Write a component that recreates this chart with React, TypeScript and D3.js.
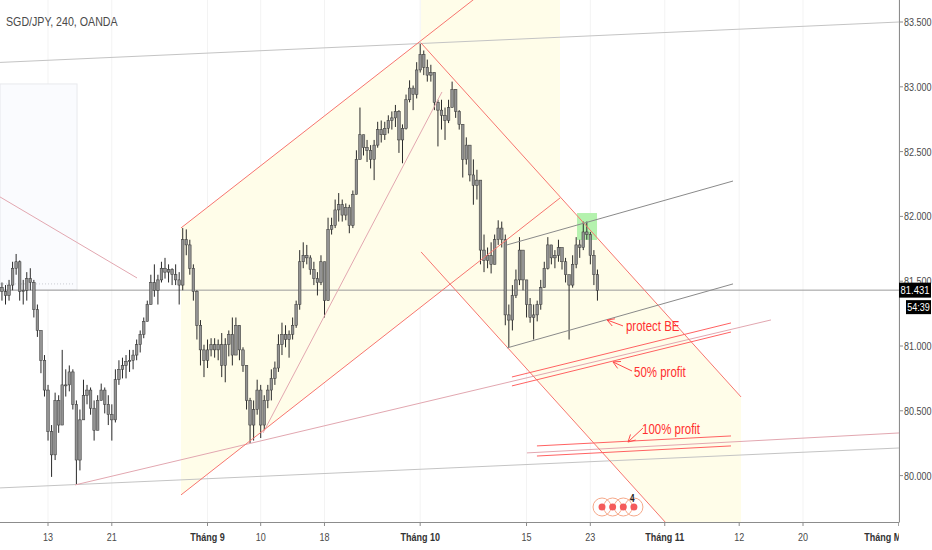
import { useEffect, useRef } from 'react';
import * as d3 from 'd3';

const SYMBOL = 'SGD/JPY, 240, OANDA';

// x is counted in trading days from Mon 13 Aug (weekends skipped)
const TICK_DAYS = [0, 6, 15, 20, 26, 35, 45, 51, 58, 65, 71, 80];
const TICK_LABELS = ['13', '21', 'Tháng 9', '10', '18', 'Tháng 10', '15', '23', 'Tháng 11', '12', '20', 'Tháng Mười Hai'];
const PRICE_TICKS = [80, 80.5, 81, 81.5, 82, 82.5, 83, 83.5];

// candles, 3 per trading day, open = previous close
const FIRST_DAY = -4.33;
const BARS_PER_DAY = 3;
const FIRST_OPEN = 81.45;
const HIGHS = [
  81.49, 81.47, 81.51, 81.65, 81.71, 81.66, 81.51, 81.57, 81.60, 81.51,
  81.32, 81.12, 80.93, 80.70, 80.39, 80.64, 80.62, 80.97, 80.82, 80.85,
  80.82, 80.58, 80.51, 80.74, 80.70, 80.68, 80.58, 80.62, 80.71, 80.68,
  80.62, 80.55, 80.82, 80.89, 80.91, 80.93, 80.97, 80.97, 81.05, 81.12,
  81.22, 81.35, 81.55, 81.63, 81.55, 81.65, 81.68, 81.63, 81.60, 81.63,
  81.57, 81.91, 81.90, 81.82, 81.63, 81.43, 81.20, 81.01, 81.05, 81.06,
  81.06, 81.05, 81.10, 81.06, 81.12, 81.22, 81.22, 81.16, 80.99, 80.85,
  80.60, 80.58, 80.74, 80.70, 80.62, 80.70, 80.82, 80.88, 81.09, 81.18,
  81.16, 81.12, 81.22, 81.35, 81.74, 81.80, 81.78, 81.70, 81.65, 81.57,
  81.70, 81.65, 81.99, 81.99, 82.13, 82.18, 82.13, 82.10, 82.09, 82.20,
  82.51, 82.84, 82.63, 82.59, 82.55, 82.59, 82.73, 82.74, 82.73, 82.78,
  82.81, 82.86, 82.82, 82.71, 82.94, 83.05, 83.01, 83.19, 83.34, 83.28,
  83.21, 83.17, 83.01, 82.90, 82.90, 82.84, 82.90, 83.04, 82.94, 82.82,
  82.71, 82.61, 82.55, 82.44, 82.36, 82.28, 81.86, 81.76, 81.80, 81.86,
  81.97, 81.96, 81.86, 81.32, 81.47, 81.59, 81.84, 81.74, 81.51, 81.37,
  81.32, 81.35, 81.51, 81.65, 81.84, 81.78, 81.74, 81.82, 81.76, 81.68,
  81.55, 81.70, 81.84, 81.82, 81.96, 81.96, 81.88, 81.74, 81.59,
];
const LOWS = [
  81.35, 81.32, 81.35, 81.43, 81.55, 81.35, 81.32, 81.35, 81.43, 81.22,
  81.07, 80.79, 80.61, 80.27, 79.99, 80.12, 80.33, 80.39, 80.61, 80.65,
  80.51, 79.93, 80.04, 80.43, 80.55, 80.47, 80.27, 80.38, 80.58, 80.48,
  80.39, 80.27, 80.41, 80.70, 80.75, 80.75, 80.80, 80.82, 80.89, 80.95,
  81.06, 81.19, 81.32, 81.38, 81.32, 81.49, 81.52, 81.49, 81.47, 81.47,
  81.32, 81.43, 81.70, 81.55, 81.35, 81.05, 80.85, 80.76, 80.83, 80.92,
  80.91, 80.89, 80.76, 80.72, 80.92, 80.85, 80.95, 80.89, 80.80, 80.51,
  80.25, 80.27, 80.47, 80.29, 80.35, 80.52, 80.58, 80.70, 80.80, 80.93,
  80.99, 80.91, 81.05, 81.14, 81.28, 81.60, 81.63, 81.55, 81.47, 81.39,
  81.47, 81.22, 81.35, 81.86, 81.91, 81.96, 81.96, 81.97, 81.87, 81.91,
  82.17, 82.44, 82.47, 82.42, 82.37, 82.28, 82.53, 82.57, 82.59, 82.64,
  82.67, 82.69, 82.49, 82.41, 82.67, 82.88, 82.82, 82.91, 83.11, 83.09,
  83.04, 83.04, 82.82, 82.54, 82.67, 82.59, 82.72, 82.86, 82.76, 82.67,
  82.30, 82.40, 82.27, 82.09, 82.13, 81.63, 81.57, 81.60, 81.56, 81.68,
  81.78, 81.76, 81.16, 80.99, 81.12, 81.37, 81.47, 81.43, 81.22, 81.18,
  81.05, 81.19, 81.28, 81.47, 81.59, 81.63, 81.60, 81.65, 81.59, 81.49,
  81.05, 81.45, 81.60, 81.68, 81.74, 81.82, 81.63, 81.47, 81.35,
];
const CLOSES = [
  81.42, 81.39, 81.47, 81.60, 81.65, 81.42, 81.43, 81.52, 81.49, 81.28,
  81.12, 80.89, 80.66, 80.34, 80.16, 80.58, 80.39, 80.70, 80.70, 80.80,
  80.55, 80.12, 80.43, 80.62, 80.66, 80.52, 80.35, 80.58, 80.66, 80.55,
  80.47, 80.43, 80.74, 80.82, 80.85, 80.88, 80.89, 80.93, 81.01, 81.09,
  81.19, 81.32, 81.49, 81.43, 81.51, 81.60, 81.57, 81.59, 81.55, 81.51,
  81.47, 81.82, 81.78, 81.60, 81.42, 81.16, 80.97, 80.89, 80.97, 81.01,
  80.97, 81.01, 80.85, 81.01, 81.09, 80.93, 81.16, 80.97, 80.85, 80.58,
  80.39, 80.51, 80.66, 80.39, 80.58, 80.66, 80.75, 80.83, 81.01, 81.09,
  81.05, 81.09, 81.16, 81.32, 81.65, 81.70, 81.68, 81.59, 81.52, 81.49,
  81.65, 81.35, 81.90, 81.93, 82.05, 82.09, 82.01, 82.07, 81.93, 82.17,
  82.44, 82.63, 82.53, 82.51, 82.44, 82.55, 82.67, 82.63, 82.68, 82.74,
  82.76, 82.81, 82.59, 82.68, 82.90, 82.99, 82.94, 83.13, 83.25, 83.15,
  83.09, 83.11, 82.88, 82.82, 82.78, 82.74, 82.84, 82.98, 82.81, 82.71,
  82.44, 82.55, 82.32, 82.24, 82.28, 81.74, 81.66, 81.70, 81.63, 81.82,
  81.91, 81.82, 81.24, 81.20, 81.39, 81.51, 81.74, 81.51, 81.32, 81.22,
  81.24, 81.32, 81.45, 81.60, 81.78, 81.68, 81.70, 81.76, 81.65, 81.55,
  81.47, 81.63, 81.78, 81.76, 81.88, 81.86, 81.70, 81.55, 81.43,
];

const LAST_PRICE = 81.431;
const COUNTDOWN = '54:39';

// drawings, as [day, price] points
type Pt = [number, number];
const GRAY_LINES: Pt[][] = [
  [[-4.51, 83.188], [80.03, 83.5]],
  [[-4.51, 79.905], [80.03, 80.213]],
];
const PINK_LINES: Pt[][] = [
  [[2.54, 79.928], [67.99, 81.201]],
  [[45.04, 80.175], [80.03, 80.329]],
  [[20.22, 80.329], [37.05, 82.96]],
  [[-4.51, 82.15], [8.37, 81.525]],
];
const ASC_UPPER: Pt[] = [[12.51, 81.911], [42.0, 83.8]];
const ASC_LOWER: Pt[] = [[12.51, 79.851], [48.15, 82.142]];
const DESC_UPPER: Pt[] = [[35.08, 83.338], [65.17, 80.607]];
const DESC_LOWER: Pt[] = [[35.08, 81.726], [65.17, 78.994]];
const WEDGE_LINES: Pt[][] = [
  [[43.16, 81.78], [64.42, 82.273]],
  [[43.16, 80.985], [64.42, 81.479]],
];
const TARGET_LINES: Pt[][] = [
  [[43.63, 80.761], [64.23, 81.178]],
  [[43.63, 80.692], [64.23, 81.108]],
  [[45.98, 80.229], [64.23, 80.306]],
  [[45.98, 80.151], [64.23, 80.229]],
];
const NOTE_TEXTS = ['protect BE', '50% profit', '100% profit'];
const NOTE_POINTS: Pt[] = [[54.35, 81.116], [55.11, 80.761], [55.86, 80.321]];
const ARROW_TAILS: Pt[] = [[54.07, 81.155], [54.92, 80.807], [55.95, 80.367]];
const ARROW_TIPS: Pt[] = [[52.57, 81.201], [53.13, 80.877], [54.54, 80.259]];
const GREEN_BOX: Pt[] = [[49.75, 82.026], [51.63, 81.818]];
const BLUE_BOX: Pt[] = [[-4.51, 83.022], [2.73, 81.432]];
const BLUE_BOX_MARK: Pt[] = [[-4.51, 81.479], [2.44, 81.479]];
const EVENT_DAYS = [52.1, 53.1, 54.1, 55.1];

const FONT = '"Liberation Sans", Arial, sans-serif';
const SQUEEZE = 0.82; // narrow look of the chart's font

export default function App() {
  const svgRef = useRef<SVGSVGElement>(null);

  useEffect(() => {
    if (!svgRef.current) return;
    document.body.style.margin = '0';

    const width = 932;
    const height = 550;
    const plotR = 899;
    const plotB = 522;

    const x = d3.scaleLinear().domain([0, 71]).range([48, 803]);
    const y = d3.scaleLinear().domain([80, 83.5]).range([475.6, 22]);
    const at = (l: Pt[], d: number) => l[0][1] + ((l[1][1] - l[0][1]) * (d - l[0][0])) / (l[1][0] - l[0][0]);

    const svg = d3.select(svgRef.current);
    svg.selectAll('*').remove();
    svg.attr('width', width).attr('height', height).attr('viewBox', `0 0 ${width} ${height}`);

    // condensed text helper
    const narrow = (parent: any, px: number, py: number, size: number, text: string) =>
      parent.append('text')
        .attr('transform', `translate(${px},${py}) scale(${SQUEEZE},1)`)
        .attr('font-family', FONT)
        .attr('font-size', size)
        .text(text);

    svg.append('rect').attr('width', width).attr('height', height).attr('fill', '#ffffff');

    const defs = svg.append('defs');
    defs.append('clipPath').attr('id', 'plot').append('rect').attr('width', plotR).attr('height', plotB);

    const g = svg.append('g').attr('clip-path', 'url(#plot)');

    // grid
    TICK_DAYS.forEach((d) => {
      g.append('line')
        .attr('x1', x(d)).attr('x2', x(d))
        .attr('y1', 0).attr('y2', plotB)
        .attr('stroke', '#f3f3f3');
    });

    // left box
    g.append('rect')
      .attr('x', x(BLUE_BOX[0][0])).attr('y', y(BLUE_BOX[0][1]))
      .attr('width', x(BLUE_BOX[1][0]) - x(BLUE_BOX[0][0]))
      .attr('height', y(BLUE_BOX[1][1]) - y(BLUE_BOX[0][1]))
      .attr('fill', '#fafbfe')
      .attr('stroke', '#e8e9ed');
    g.append('line')
      .attr('x1', x(BLUE_BOX_MARK[0][0])).attr('x2', x(BLUE_BOX_MARK[1][0]))
      .attr('y1', y(BLUE_BOX_MARK[0][1])).attr('y2', y(BLUE_BOX_MARK[1][1]))
      .attr('stroke', '#c9ccd2')
      .attr('stroke-dasharray', '1,2');

    // channel backgrounds
    const poly = d3.line<Pt>().x((p) => x(p[0])).y((p) => y(p[1]));
    const fill = '#fffde9';
    const ascEnd = ASC_LOWER[1][0];
    g.append('path')
      .attr('d', poly([
        [ASC_UPPER[0][0], ASC_UPPER[0][1]],
        [ascEnd, at(ASC_UPPER, ascEnd)],
        [ascEnd, ASC_LOWER[1][1]],
        [ASC_LOWER[0][0], ASC_LOWER[0][1]],
      ]) + 'Z')
      .attr('fill', fill);
    const top = 84;
    g.append('path')
      .attr('d', poly([
        [DESC_UPPER[0][0], top],
        [ascEnd, top],
        [ascEnd, at(DESC_UPPER, ascEnd)],
        DESC_UPPER[1],
        DESC_LOWER[1],
        DESC_LOWER[0],
      ]) + 'Z')
      .attr('fill', fill);

    // green highlight
    g.append('rect')
      .attr('x', x(GREEN_BOX[0][0])).attr('y', y(GREEN_BOX[0][1]))
      .attr('width', x(GREEN_BOX[1][0]) - x(GREEN_BOX[0][0]))
      .attr('height', y(GREEN_BOX[1][1]) - y(GREEN_BOX[0][1]))
      .attr('fill', '#b4f2ae');

    // last price line
    g.append('line')
      .attr('x1', 0).attr('x2', plotR)
      .attr('y1', y(LAST_PRICE)).attr('y2', y(LAST_PRICE))
      .attr('stroke', '#9a9a9a');

    // candles
    const candles = g.append('g');
    CLOSES.forEach((c, i) => {
      const o = i === 0 ? FIRST_OPEN : CLOSES[i - 1];
      const cx = x(FIRST_DAY + i / BARS_PER_DAY);
      const hi = Math.max(HIGHS[i], o, c);
      const lo = Math.min(LOWS[i], o, c);
      candles.append('line')
        .attr('x1', cx).attr('x2', cx)
        .attr('y1', y(hi)).attr('y2', y(lo))
        .attr('stroke', '#2a2a2a')
        .attr('stroke-width', 1);
      const yTop = y(Math.max(o, c));
      const h = Math.max(1, y(Math.min(o, c)) - yTop);
      candles.append('rect')
        .attr('x', cx - 1.3).attr('y', yTop)
        .attr('width', 2.6).attr('height', h)
        .attr('fill', '#939393')
        .attr('stroke', '#333')
        .attr('stroke-width', 0.5);
    });

    const seg = (l: Pt[], color: string) =>
      g.append('line')
        .attr('x1', x(l[0][0])).attr('y1', y(l[0][1]))
        .attr('x2', x(l[1][0])).attr('y2', y(l[1][1]))
        .attr('stroke', color)
        .attr('stroke-width', 1);

    GRAY_LINES.forEach((l) => seg(l, '#c4c4c4'));
    PINK_LINES.forEach((l) => seg(l, '#e2a7b0'));
    [ASC_UPPER, ASC_LOWER, DESC_UPPER, DESC_LOWER].forEach((l) => seg(l, '#f7756f'));
    WEDGE_LINES.forEach((l) => seg(l, '#8a8a8a'));
    TARGET_LINES.forEach((l) => seg(l, '#ff6262'));

    // arrows
    ARROW_TIPS.forEach((tip, i) => {
      const tail = ARROW_TAILS[i];
      const x1 = x(tail[0]), y1 = y(tail[1]);
      const x2 = x(tip[0]), y2 = y(tip[1]);
      const ang = Math.atan2(y1 - y2, x1 - x2);
      const len = 8;
      const p = d3.path();
      p.moveTo(x2 + len * Math.cos(ang - 0.5), y2 + len * Math.sin(ang - 0.5));
      p.lineTo(x2, y2);
      p.lineTo(x2 + len * Math.cos(ang + 0.5), y2 + len * Math.sin(ang + 0.5));
      p.moveTo(x1, y1);
      p.lineTo(x2, y2);
      g.append('path')
        .attr('d', p.toString())
        .attr('fill', 'none')
        .attr('stroke', '#ff4a4a')
        .attr('stroke-width', 1);
    });

    NOTE_TEXTS.forEach((t, i) => {
      narrow(g, x(NOTE_POINTS[i][0]), y(NOTE_POINTS[i][1]), 14, t).attr('fill', '#ff3030');
    });

    // event markers
    const ev = g.append('g');
    EVENT_DAYS.forEach((d) => {
      ev.append('circle')
        .attr('cx', x(d)).attr('cy', plotB - 15)
        .attr('r', 9)
        .attr('fill', 'none')
        .attr('stroke', '#f6a98a')
        .attr('stroke-width', 1);
    });
    EVENT_DAYS.forEach((d) => {
      ev.append('circle')
        .attr('cx', x(d)).attr('cy', plotB - 15)
        .attr('r', 3.5)
        .attr('fill', '#f45b5b');
    });
    narrow(ev, x(EVENT_DAYS[EVENT_DAYS.length - 1]) - 4, plotB - 20, 10, String(EVENT_DAYS.length))
      .attr('font-weight', 700)
      .attr('fill', '#222');

    // title
    narrow(svg, 6, 26, 13, SYMBOL).attr('fill', '#4a4a4a');

    // axes
    svg.append('line')
      .attr('x1', plotR + 0.5).attr('x2', plotR + 0.5)
      .attr('y1', 0).attr('y2', plotB)
      .attr('stroke', '#8c8c8c');
    svg.append('line')
      .attr('x1', 0).attr('x2', plotR + 0.5)
      .attr('y1', plotB + 0.5).attr('y2', plotB + 0.5)
      .attr('stroke', '#8c8c8c');

    PRICE_TICKS.forEach((p) => {
      svg.append('line')
        .attr('x1', plotR).attr('x2', plotR + 4)
        .attr('y1', y(p)).attr('y2', y(p))
        .attr('stroke', '#8c8c8c');
      narrow(svg, plotR + 5, y(p) + 4, 11, p.toFixed(3)).attr('fill', '#4a4a4a');
    });

    defs.append('clipPath').attr('id', 'xaxis').append('rect').attr('width', plotR).attr('height', height);
    const xa = svg.append('g').attr('clip-path', 'url(#xaxis)');
    TICK_DAYS.forEach((d, i) => {
      const month = TICK_LABELS[i].startsWith('Tháng');
      xa.append('line')
        .attr('x1', x(d)).attr('x2', x(d))
        .attr('y1', plotB).attr('y2', plotB + 4)
        .attr('stroke', '#8c8c8c');
      narrow(xa, x(d), plotB + 19, 11, TICK_LABELS[i])
        .attr('text-anchor', 'middle')
        .attr('font-weight', month ? 700 : 400)
        .attr('fill', month ? '#333' : '#4a4a4a');
    });

    // last price label + countdown
    const ly = y(LAST_PRICE);
    svg.append('rect')
      .attr('x', plotR).attr('y', ly - 7.5)
      .attr('width', 32).attr('height', 15)
      .attr('fill', '#000');
    narrow(svg, plotR + 16, ly + 4, 11.5, LAST_PRICE.toFixed(3))
      .attr('text-anchor', 'middle')
      .attr('fill', '#fff');
    svg.append('rect')
      .attr('x', plotR + 7).attr('y', ly + 10)
      .attr('width', 25).attr('height', 14)
      .attr('fill', '#000');
    narrow(svg, plotR + 19.5, ly + 21, 11, COUNTDOWN)
      .attr('text-anchor', 'middle')
      .attr('fill', '#fff');
  }, []);

  return <svg ref={svgRef} style={{ display: 'block' }} />;
}
